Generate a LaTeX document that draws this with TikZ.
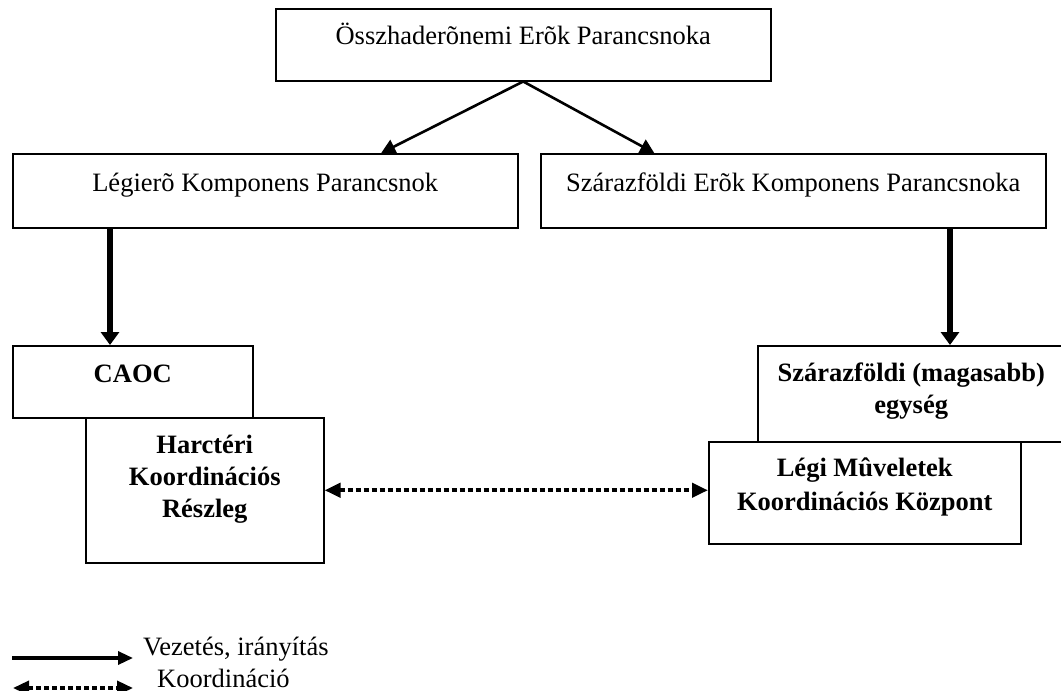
\documentclass[tikz,border=0pt]{standalone}
\usepackage{fontspec}
\setmainfont{Liberation Serif}
\usetikzlibrary{arrows.meta}
\begin{document}
\begin{tikzpicture}[x=1pt,y=-1pt,
  box/.style={draw, line width=1.5pt, rectangle, inner sep=0pt, anchor=north west},
  lbl/.style={anchor=north, inner sep=0pt, align=center,
    font=\fontsize{26.5}{32}\selectfont,
    execute at begin node={\rule{0pt}{24pt}}},
  blbl/.style={lbl, font=\fontsize{26.5}{32}\selectfont\bfseries},
  legtext/.style={anchor=base west, inner sep=0pt, font=\fontsize{26.5}{32}\selectfont},
  cmd/.style={line width=2.6pt, -{Triangle[length=14pt,width=15pt]}},
  heavy/.style={line width=5.5pt, -{Triangle[length=13pt,width=18pt]}},
  coordline/.style={line width=4pt, dash pattern=on 5pt off 3pt,
    {Triangle[length=16pt,width=14pt]}-{Triangle[length=16pt,width=14pt]}},
  legsolid/.style={line width=3.3pt, -{Triangle[length=15pt,width=13pt]}},
]
\useasboundingbox (0,0) rectangle (1061,691);

% command levels
\node[box, minimum width=495pt, minimum height=72pt] (ohq) at (275,8) {};
\node[lbl] (ohqt) at ([yshift=-12pt]ohq.north) {Összhaderõnemi Erõk Parancsnoka};

\node[box, minimum width=505pt, minimum height=74pt] (lkp) at (12,153) {};
\node[lbl] (lkpt) at ([yshift=-14pt]lkp.north) {Légierõ Komponens Parancsnok};

\node[box, minimum width=505pt, minimum height=74pt] (rkp) at (540,153) {};
\node[lbl] (rkpt) at ([yshift=-14pt]rkp.north) {Szárazföldi Erõk Komponens Parancsnoka};

% air side
\node[box, minimum width=240pt, minimum height=72pt] (caoc) at (12,345) {};
\node[blbl] (caoct) at ([yshift=-13pt]caoc.north) {CAOC};

\node[box, minimum width=238pt, minimum height=145pt] (harc) at (85,417) {};
\node[blbl] (harct) at ([yshift=-18pt]harc.north) {Harctéri\\Koordinációs\\Részleg};

% land side
\node[box, minimum width=307pt, minimum height=96pt] (szar) at (757,345) {};
\node[blbl] (szart) at ([yshift=-18pt]szar.north) {Szárazföldi (magasabb)\\egység};

\node[box, minimum width=312pt, minimum height=102pt] (legi) at (708,441) {};
\node[blbl, font=\fontsize{26.5}{34}\selectfont\bfseries] (legit) at ([yshift=-17pt]legi.north)
  {Légi Mûveletek\\Koordinációs Központ};

% command connectors
\draw[cmd] (ohq.south) -- ([xshift=116pt]lkp.north);
\draw[cmd] (ohq.south) -- ([xshift=-139pt]rkp.north);

\path (lkp.south west) ++(98,0) coordinate (la);
\draw[heavy] (la) -- (la |- caoc.north);
\path (rkp.south west) ++(410,0) coordinate (ra);
\draw[heavy] (ra) -- (ra |- szar.north);

% coordination link
\draw[coordline] (harc.east) -- (harc.east -| legi.west);

% legend
\coordinate (s1) at (12,658);
\coordinate (s2) at (133,658);
\draw[legsolid] (s1) -- (s2);
\node[legtext] (st) at (143,655) {Vezetés, irányítás};

\coordinate (d1) at (13,688);
\coordinate (d2) at (133,688);
\draw[coordline, line width=3.5pt] (d1) -- (d2);
\node[legtext] (dt) at (157,687) {Koordináció};
\end{tikzpicture}
\end{document}
